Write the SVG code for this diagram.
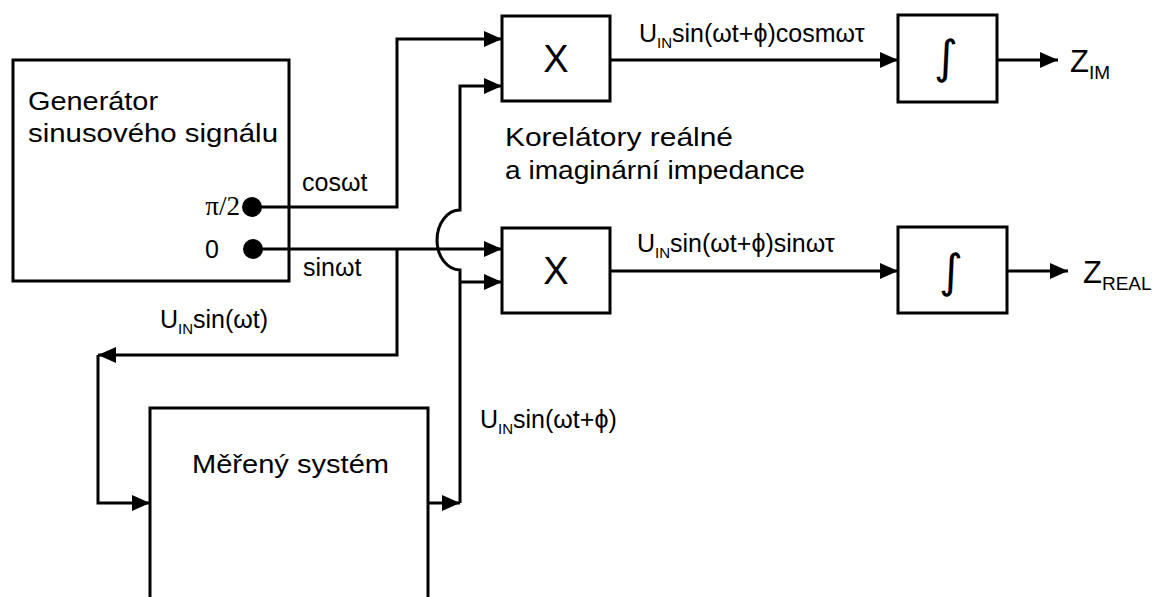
<svg xmlns="http://www.w3.org/2000/svg" width="1158" height="597" viewBox="0 0 1158 597">
<style>
.box{fill:#fff;stroke:#000;stroke-width:3}
.ln{fill:none;stroke:#000;stroke-width:3}
.t{font-family:"Liberation Sans",Arial,sans-serif;font-size:25px;fill:#000}
.s{font-size:15px}
.serif{font-family:"Liberation Serif","Times New Roman",serif;font-size:27px;fill:#000}
.big{font-family:"Liberation Sans",Arial,sans-serif;font-size:38px;fill:#000;text-anchor:middle}
.int{font-family:"DejaVu Sans",sans-serif;font-size:46px;fill:#000;text-anchor:middle}
</style>
<defs>
<marker id="ar" markerUnits="userSpaceOnUse" markerWidth="18" markerHeight="16" refX="18" refY="8" orient="auto">
<path d="M0,0 L18,8 L0,16 z" fill="#000"/>
</marker>
</defs>
<rect width="1158" height="597" fill="#fff"/>

<g id="generator">
<rect class="box" x="13" y="60" width="276" height="221"/>
<text class="t" x="28" y="110" textLength="130" lengthAdjust="spacingAndGlyphs">Generátor</text>
<text class="t" x="28" y="142" textLength="250" lengthAdjust="spacingAndGlyphs">sinusového signálu</text>
<text class="serif" x="240" y="215" text-anchor="end">π/2</text>
<text class="t" x="205" y="258">0</text>
<circle cx="252" cy="207" r="10"/>
<circle cx="253" cy="249" r="10"/>
</g>

<g id="mult-im">
<rect class="box" x="502" y="16" width="108" height="85"/>
<text class="big" x="556" y="72">X</text>
</g>
<g id="mult-re">
<rect class="box" x="502" y="228" width="108" height="85"/>
<text class="big" x="556" y="284">X</text>
</g>
<g id="int-im">
<rect class="box" x="898" y="15" width="99" height="87"/>
<text class="int" x="946" y="73">∫</text>
</g>
<g id="int-re">
<rect class="box" x="898" y="227" width="109" height="86"/>
<text class="int" x="951" y="287">∫</text>
</g>
<g id="system">
<rect class="box" x="150" y="408" width="278" height="200"/>
<text class="t" x="192" y="473" textLength="197" lengthAdjust="spacingAndGlyphs">Měřený systém</text>
</g>

<g id="connectors">
<path class="ln" d="M252 207 H397 V39 H502" marker-end="url(#ar)"/>
<path class="ln" d="M253 249 H502" marker-end="url(#ar)"/>
<path class="ln" d="M397 249 V355 H98" marker-end="url(#ar)"/>
<path class="ln" d="M98 355 V503 H150" marker-end="url(#ar)"/>
<path class="ln" d="M428 503 H460" marker-end="url(#ar)"/>
<path class="ln" d="M460 503 V270 A23 30 0 0 1 460 210 V86 H502" marker-end="url(#ar)"/>
<path class="ln" d="M460 282 H502" marker-end="url(#ar)"/>
<path class="ln" d="M610 60 H898" marker-end="url(#ar)"/>
<path class="ln" d="M997 60 H1058" marker-end="url(#ar)"/>
<path class="ln" d="M610 271 H898" marker-end="url(#ar)"/>
<path class="ln" d="M1007 271 H1068" marker-end="url(#ar)"/>
</g>

<g id="labels">
<text class="t" x="302" y="191">cosωt</text>
<text class="t" x="303" y="276">sinωt</text>
<text class="t" x="505" y="146" textLength="228" lengthAdjust="spacingAndGlyphs">Korelátory reálné</text>
<text class="t" x="505" y="179" textLength="300" lengthAdjust="spacingAndGlyphs">a imaginární impedance</text>
<text class="t" x="639" y="42">U<tspan class="s" dy="6">IN</tspan><tspan dy="-6">sin(ωt+ϕ)cosmωτ</tspan></text>
<text class="t" x="637" y="252">U<tspan class="s" dy="6">IN</tspan><tspan dy="-6">sin(ωt+ϕ)sinωτ</tspan></text>
<text class="t" x="160" y="328">U<tspan class="s" dy="6">IN</tspan><tspan dy="-6">sin(ωt)</tspan></text>
<text class="t" x="480" y="428">U<tspan class="s" dy="6">IN</tspan><tspan dy="-6">sin(ωt+ϕ)</tspan></text>
<text class="t" x="1070" y="72" style="font-size:31px">Z<tspan class="s" dy="7" style="font-size:19px">IM</tspan></text>
<text class="t" x="1083" y="283" style="font-size:31px">Z<tspan class="s" dy="7" style="font-size:19px">REAL</tspan></text>
</g>
</svg>
